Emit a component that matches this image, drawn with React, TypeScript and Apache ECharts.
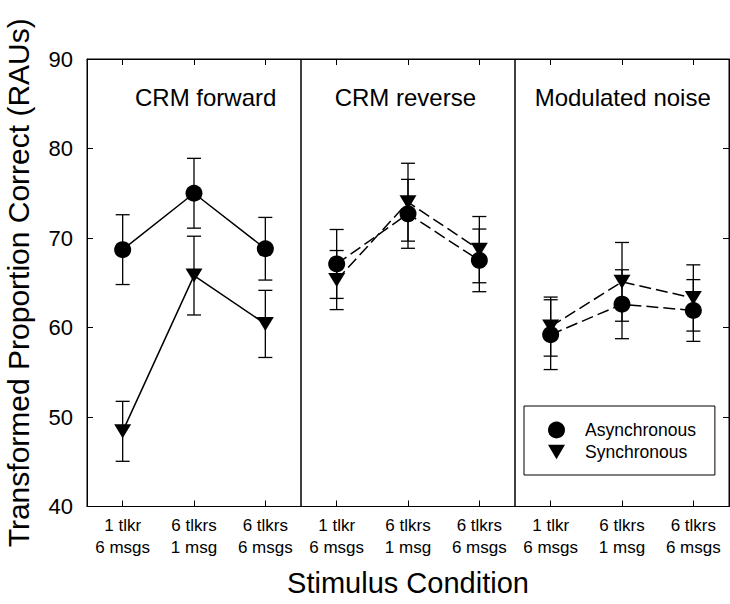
import React, { useEffect, useRef } from "react";
import * as echarts from "echarts";

const categories = ["1 tlkr\n6 msgs", "6 tlkrs\n1 msg", "6 tlkrs\n6 msgs"];
const panelTitles = ["CRM forward", "CRM reverse", "Modulated noise"];

const asyncMean = [
  [68.7, 75.0, 68.8],
  [67.1, 72.7, 67.5],
  [59.2, 62.6, 61.9],
];
const asyncErr = [
  [3.9, 3.9, 3.5],
  [3.85, 3.85, 3.5],
  [3.9, 3.85, 3.45],
];
const syncMean = [
  [48.4, 65.8, 60.4],
  [65.3, 74.0, 68.7],
  [60.1, 65.1, 63.3],
];
const syncErr = [
  [3.35, 4.4, 3.75],
  [3.3, 4.35, 3.7],
  [3.3, 4.4, 3.7],
];
const yTicks = [40, 50, 60, 70, 80, 90];

const FONT = "'Liberation Sans', Arial, sans-serif";
const TRI_DOWN = "path://M0,0L20,0L10,17Z";

export default function App() {
  const ref = useRef<HTMLDivElement>(null);
  useEffect(() => {
    if (!ref.current) return;
    const chart = echarts.init(ref.current, undefined, { renderer: "svg" });
    const gridLeft = 87;
    const panelW = 214;
    const grids = [0, 1, 2].map((i) => ({
      left: gridLeft + i * panelW,
      top: 59,
      width: panelW,
      height: 447.5,
      show: true,
      borderColor: "#000",
      borderWidth: 1,
      backgroundColor: "transparent",
    }));
    const xAxes: any[] = [];
    [0, 1, 2].forEach((i) => {
      xAxes.push({
        type: "category",
        gridIndex: i,
        data: categories,
        position: "bottom",
        boundaryGap: true,
        axisLine: { show: true, lineStyle: { color: "#000", width: 1 } },
        axisTick: { show: true, inside: true, alignWithLabel: true, length: 6, lineStyle: { color: "#000" } },
        axisLabel: { color: "#000", fontSize: 17, fontFamily: FONT, lineHeight: 22, margin: 8 },
        splitLine: { show: false },
        name: i === 1 ? "Stimulus Condition" : "",
        nameLocation: "middle",
        nameGap: 62,
        nameTextStyle: { color: "#000", fontSize: 29, fontFamily: FONT },
      });
    });
    [0, 1, 2].forEach((i) => {
      xAxes.push({
        type: "category",
        gridIndex: i,
        data: categories,
        position: "top",
        boundaryGap: true,
        axisLine: { show: true, lineStyle: { color: "#000", width: 1 } },
        axisTick: { show: true, inside: true, alignWithLabel: true, length: 6, lineStyle: { color: "#000" } },
        axisLabel: { show: false },
        splitLine: { show: false },
      });
    });
    const yBase = {
      type: "value",
      min: 40,
      max: 90,
      interval: 10,
      splitLine: { show: false },
    };
    const yAxes: any[] = [
      {
        ...yBase,
        gridIndex: 0,
        position: "left",
        axisLine: { show: true, lineStyle: { color: "#000" } },
        axisTick: { show: true, inside: true, length: 6, lineStyle: { color: "#000" } },
        axisLabel: {
          color: "#000",
          fontSize: 22,
          fontFamily: FONT,
          margin: 14,
          formatter: (v: number) => (yTicks.includes(v) ? String(v) : ""),
        },
        name: "Transformed Proportion Correct (RAUs)",
        nameLocation: "middle",
        nameGap: 54,
        nameTextStyle: { color: "#000", fontSize: 30, fontFamily: FONT },
      },
      {
        ...yBase,
        gridIndex: 1,
        axisLine: { show: false },
        axisTick: { show: false },
        axisLabel: { show: false },
      },
      {
        ...yBase,
        gridIndex: 2,
        position: "right",
        axisLine: { show: true, lineStyle: { color: "#000" } },
        axisTick: { show: true, inside: true, length: 6, lineStyle: { color: "#000" } },
        axisLabel: { show: false },
      },
    ];

    const errRender = (params: any, api: any) => {
      const x = api.value(0);
      const lo = api.value(1);
      const hi = api.value(2);
      const top = api.coord([x, hi]);
      const bot = api.coord([x, lo]);
      const hw = 7;
      const style = { stroke: "#000", lineWidth: 1.3, fill: "none" };
      return {
        type: "group",
        children: [
          { type: "line", shape: { x1: top[0], y1: top[1], x2: bot[0], y2: bot[1] }, style },
          { type: "line", shape: { x1: top[0] - hw, y1: top[1], x2: top[0] + hw, y2: top[1] }, style },
          { type: "line", shape: { x1: bot[0] - hw, y1: bot[1], x2: bot[0] + hw, y2: bot[1] }, style },
        ],
      };
    };

    const series: any[] = [];
    [0, 1, 2].forEach((i) => {
      const lineType = i === 0 ? "solid" : [12, 5];
      series.push({
        type: "custom",
        name: "errA" + i,
        xAxisIndex: i,
        yAxisIndex: i,
        renderItem: errRender,
        encode: { x: 0, y: [1, 2] },
        data: asyncMean[i].map((m, k) => [k, m - asyncErr[i][k], m + asyncErr[i][k]]),
        z: 3,
      });
      series.push({
        type: "custom",
        name: "errS" + i,
        xAxisIndex: i,
        yAxisIndex: i,
        renderItem: errRender,
        encode: { x: 0, y: [1, 2] },
        data: syncMean[i].map((m, k) => [k, m - syncErr[i][k], m + syncErr[i][k]]),
        z: 3,
      });
      series.push({
        type: "line",
        name: "Asynchronous",
        xAxisIndex: i,
        yAxisIndex: i,
        data: asyncMean[i],
        symbol: "circle",
        symbolSize: 17,
        showAllSymbol: true,
        itemStyle: { color: "#000" },
        lineStyle: { color: "#000", width: 1.5, type: lineType },
        z: 4,
      });
      series.push({
        type: "line",
        name: "Synchronous",
        xAxisIndex: i,
        yAxisIndex: i,
        data: syncMean[i],
        symbol: TRI_DOWN,
        symbolSize: [17, 14],
        showAllSymbol: true,
        itemStyle: { color: "#000" },
        lineStyle: { color: "#000", width: 1.5, type: lineType },
        z: 4,
      });
    });

    const titleX = [205.7, 405.3, 622.7];
    const graphics = panelTitles.map((t, i) => ({
      type: "text",
      x: titleX[i],
      y: 97,
      style: {
        text: t,
        fill: "#000",
        font: `24px ${FONT}`,
        textAlign: "center",
        textVerticalAlign: "middle",
      },
    }));

    chart.setOption({
      animation: false,
      backgroundColor: "#fff",
      grid: grids,
      xAxis: xAxes,
      yAxis: yAxes,
      series,
      legend: {
        left: 524,
        top: 406,
        orient: "vertical",
        borderColor: "#000",
        borderWidth: 1,
        padding: [15, 19, 14, 24],
        itemWidth: 17,
        itemHeight: 17,
        itemGap: 4,
        symbolRotate: 0,
        selectedMode: false,
        textStyle: { color: "#000", fontSize: 17.5, fontFamily: FONT, padding: [0, 0, 0, 15] },
        data: [
          { name: "Asynchronous", icon: "circle" },
          { name: "Synchronous", icon: TRI_DOWN },
        ],
      },
      graphic: graphics,
    });
    return () => chart.dispose();
  }, []);
  return (
    <div
      ref={ref}
      style={{ position: "fixed", left: 0, top: 0, width: 730, height: 604, background: "#fff" }}
    />
  );
}
